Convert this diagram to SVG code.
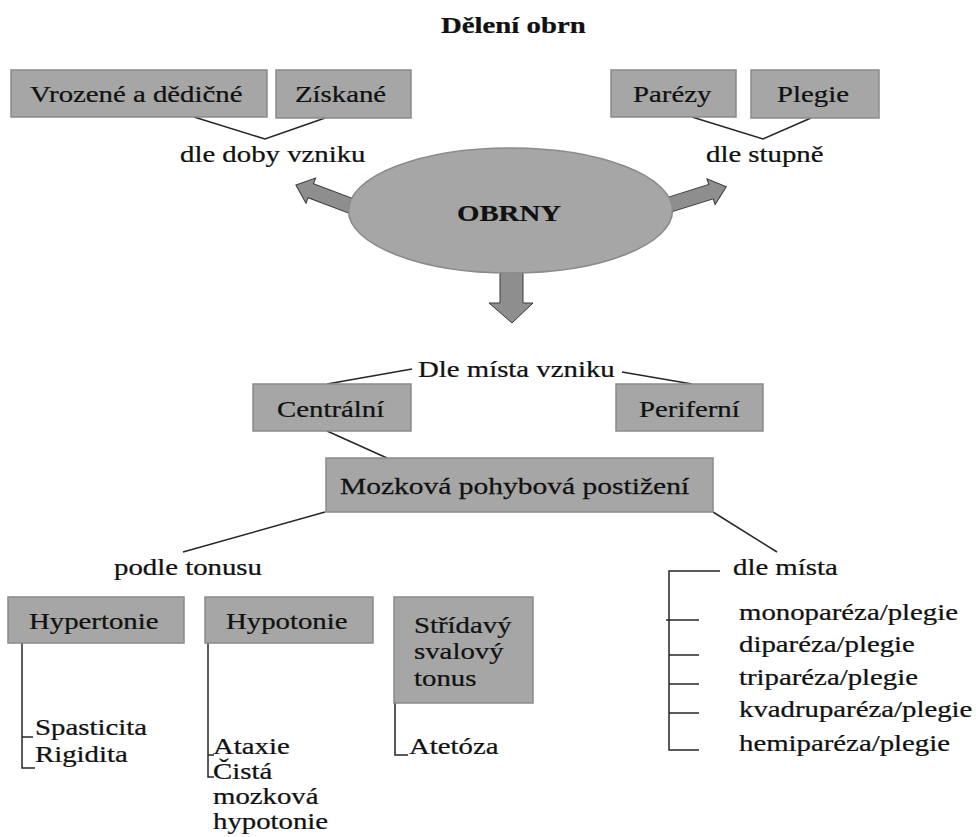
<svg xmlns="http://www.w3.org/2000/svg" width="976" height="837" viewBox="0 0 976 837">
<defs>
<style>
.t{font-family:"Liberation Serif","Times New Roman",serif;font-size:24px;fill:#111;stroke:#111;stroke-width:0.25}
.b{font-weight:bold}
.box{fill:#a6a6a6;stroke:#8a8a8a;stroke-width:1.5}
.ln{fill:none;stroke:#262626;stroke-width:1.5}
.arr{fill:#8e8e8e;stroke:#3a3a3a;stroke-width:1}
</style>
<polygon id="barrow" points="-6,-7.5 43,-7.5 43,-13.5 59,0 43,13.5 43,7.5 -6,7.5"/>
</defs>
<rect width="976" height="837" fill="#fff"/>

<g id="title"><text class="t b" transform="matrix(1.2 0 0 1 441 33)">Dělení obrn</text></g>

<g id="connectors">
<polyline class="ln" points="194,117 265,139 325,118"/>
<polyline class="ln" points="692,117 763,139 811,118"/>
<line class="ln" x1="327" y1="384" x2="412" y2="369"/>
<line class="ln" x1="622" y1="372" x2="692" y2="384"/>
<line class="ln" x1="327" y1="431" x2="387" y2="458"/>
<line class="ln" x1="325" y1="512" x2="183" y2="552"/>
<line class="ln" x1="713" y1="512" x2="777" y2="552"/>
<polyline class="ln" points="720,571 669,571 669,750 699,750"/>
<line class="ln" x1="666" y1="620" x2="699" y2="620"/>
<line class="ln" x1="669" y1="655" x2="699" y2="655"/>
<line class="ln" x1="669" y1="684" x2="699" y2="684"/>
<line class="ln" x1="669" y1="713" x2="699" y2="713"/>
<polyline class="ln" points="22,643 22,768 35,768"/>
<line class="ln" x1="22" y1="737" x2="33" y2="737"/>
<polyline class="ln" points="208,643 208,777 214,777"/>
<line class="ln" x1="208" y1="755" x2="214" y2="755"/>
<polyline class="ln" points="395,703 395,755 408,755"/>
<use href="#barrow" class="arr" transform="translate(351 206) rotate(200.9)"/>
<use href="#barrow" class="arr" transform="translate(670 204.5) rotate(-17.4)"/>
<polygon class="arr" points="500,262 523,262 523,303 533,303 512,323 489,303 500,303"/>
</g>

<g id="obrny">
<ellipse cx="510.5" cy="210.5" rx="162" ry="62.5" fill="#a6a6a6" stroke="#8a8a8a" stroke-width="1.5"/>
<text class="t b" transform="matrix(1.2 0 0 1 457 221)">OBRNY</text>
</g>

<g id="vrozene"><rect class="box" x="11" y="70" width="256" height="47"/><text class="t" transform="matrix(1.2 0 0 1 30 102)">Vrozené a dědičné</text></g>
<g id="ziskane"><rect class="box" x="276" y="70" width="135" height="48"/><text class="t" transform="matrix(1.2 0 0 1 295 102)">Získané</text></g>
<g id="dle-doby"><text class="t" transform="matrix(1.2 0 0 1 180 162)">dle doby vzniku</text></g>

<g id="parezy"><rect class="box" x="611" y="70" width="125" height="47"/><text class="t" transform="matrix(1.2 0 0 1 633 102)">Parézy</text></g>
<g id="plegie"><rect class="box" x="751" y="70" width="128" height="48"/><text class="t" transform="matrix(1.2 0 0 1 777 102)">Plegie</text></g>
<g id="dle-stupne"><text class="t" transform="matrix(1.2 0 0 1 706 162)">dle stupně</text></g>

<g id="dle-mista-vzniku"><text class="t" transform="matrix(1.2 0 0 1 418 377)">Dle místa vzniku</text></g>
<g id="centralni"><rect class="box" x="253" y="384" width="158" height="47"/><text class="t" transform="matrix(1.2 0 0 1 277 417)">Centrální</text></g>
<g id="periferni"><rect class="box" x="616" y="384" width="147" height="47"/><text class="t" transform="matrix(1.2 0 0 1 639 417)">Periferní</text></g>
<g id="mozkova"><rect class="box" x="326" y="458" width="387" height="54"/><text class="t" transform="matrix(1.23 0 0 1 340 494)">Mozková pohybová postižení</text></g>

<g id="podle-tonusu"><text class="t" transform="matrix(1.2 0 0 1 114 575)">podle tonusu</text></g>
<g id="dle-mista"><text class="t" transform="matrix(1.2 0 0 1 733 575)">dle místa</text></g>

<g id="hypertonie"><rect class="box" x="8" y="597" width="176" height="46"/><text class="t" transform="matrix(1.2 0 0 1 29 629)">Hypertonie</text></g>
<g id="hypotonie"><rect class="box" x="205" y="597" width="168" height="46"/><text class="t" transform="matrix(1.2 0 0 1 226 629)">Hypotonie</text></g>
<g id="stridavy"><rect class="box" x="394" y="597" width="139" height="106"/>
<text class="t" transform="matrix(1.2 0 0 1 414 633)">Střídavý</text>
<text class="t" transform="matrix(1.2 0 0 1 414 659)">svalový</text>
<text class="t" transform="matrix(1.2 0 0 1 414 686)">tonus</text></g>

<g id="hypertonie-items">
<text class="t" transform="matrix(1.2 0 0 1 35 735)">Spasticita</text>
<text class="t" transform="matrix(1.2 0 0 1 35 762)">Rigidita</text>
</g>
<g id="hypotonie-items">
<text class="t" transform="matrix(1.2 0 0 1 213 754)">Ataxie</text>
<text class="t" transform="matrix(1.2 0 0 1 213 779)">Čistá</text>
<text class="t" transform="matrix(1.2 0 0 1 213 804)">mozková</text>
<text class="t" transform="matrix(1.2 0 0 1 213 829)">hypotonie</text>
</g>
<g id="stridavy-items"><text class="t" transform="matrix(1.2 0 0 1 409 754)">Atetóza</text></g>
<g id="mista-items">
<text class="t" transform="matrix(1.2 0 0 1 739 620)">monoparéza/plegie</text>
<text class="t" transform="matrix(1.2 0 0 1 739 652)">diparéza/plegie</text>
<text class="t" transform="matrix(1.2 0 0 1 739 685)">triparéza/plegie</text>
<text class="t" transform="matrix(1.2 0 0 1 739 717)">kvadruparéza/plegie</text>
<text class="t" transform="matrix(1.2 0 0 1 739 751)">hemiparéza/plegie</text>
</g>
</svg>
